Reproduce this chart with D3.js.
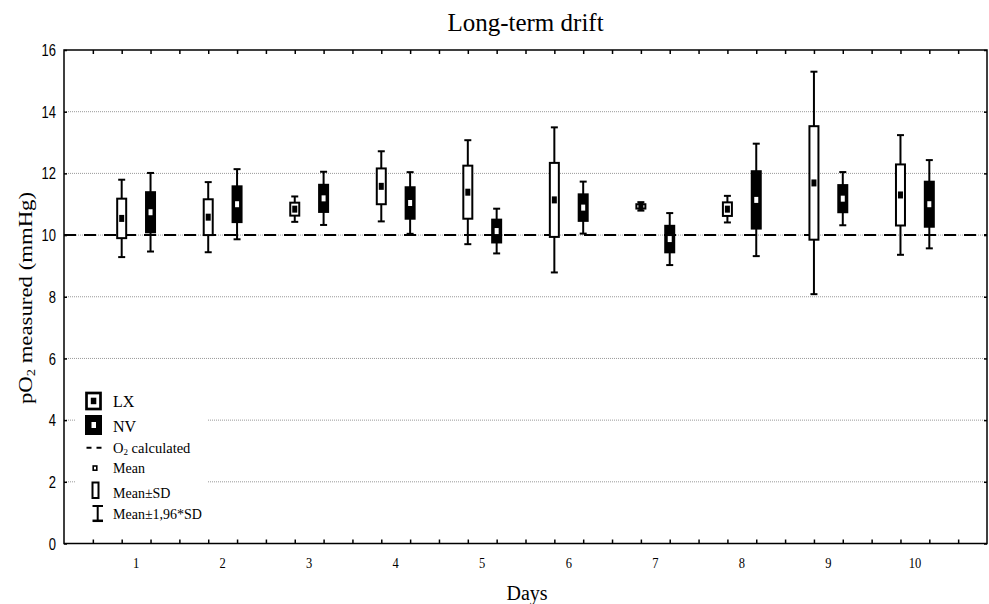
<!DOCTYPE html>
<html><head><meta charset="utf-8">
<script src="https://cdn.jsdelivr.net/npm/d3@7"></script>
<style>body{margin:0;background:#fff}</style>
</head><body>
<svg id="c" width="989" height="604"></svg>
<script>
// ---- data ----
const days = [1,2,3,4,5,6,7,8,9,10];
const lxMean = [10.54,10.58,10.84,11.58,11.39,11.14,10.93,10.84,11.69,11.30];
const lxSD   = [0.64,0.58,0.21,0.58,0.86,1.20,0.07,0.22,1.84,0.99];
const nvMean = [10.74,11.00,11.19,11.04,10.13,10.89,9.87,11.14,11.18,11.00];
const nvSD   = [0.65,0.58,0.44,0.51,0.37,0.43,0.43,0.93,0.44,0.73];
const yTicks = [0,2,4,6,8,10,12,14,16];
const o2Calculated = 10;
const ciFactor = 1.96;
const seriesNames = ["LX","NV"];
const titleText = "Long-term drift";
const xTitle = "Days";
const legendLabels = ["O2 calculated","Mean","Mean\u00B1SD","Mean\u00B11,96*SD"];

// ---- layout ----
const L=64, R=987, T=50, B=543.5;
const svg = d3.select("#c");
const serif = "'Liberation Serif','Times New Roman',serif";
const sans = "'Liberation Sans',Arial,sans-serif";

const x = d3.scaleLinear().domain([0,32]).range([L,R]);
const y = d3.scaleLinear().domain([0,16]).range([B,T]);
const slot = (d,s) => 3*d - 1 + s;

// gridlines
svg.append("g").selectAll("line").data(yTicks.filter(v=>v>0&&v<16)).join("line")
  .attr("x1",L).attr("x2",R).attr("y1",d=>y(d)).attr("y2",d=>y(d))
  .attr("stroke","#999").attr("stroke-width",1).attr("stroke-dasharray","1,1");

// legend background
svg.append("rect").attr("x",75).attr("y",383).attr("width",132).attr("height",146).attr("fill","#fff");

// reference line
svg.append("line").attr("x1",L).attr("x2",R).attr("y1",y(o2Calculated)).attr("y2",y(o2Calculated))
  .attr("stroke","#000").attr("stroke-width",2).attr("stroke-dasharray","12,8");

// axes (ticks only)
function tickAxis(axis, tr){
  const g = svg.append("g").attr("transform",tr).call(axis);
  g.select(".domain").remove();
  g.selectAll(".tick line").attr("stroke","#000").attr("stroke-width",1.5);
  g.selectAll("text").remove();
}
tickAxis(d3.axisBottom(x).tickValues(d3.range(1,32)).tickSizeInner(-4).tickSizeOuter(0), `translate(0,${B})`);
tickAxis(d3.axisTop(x).tickValues(d3.range(1,32)).tickSizeInner(-4).tickSizeOuter(0), `translate(0,${T})`);
tickAxis(d3.axisLeft(y).tickValues(yTicks).tickSizeInner(-3).tickSizeOuter(0), `translate(${L},0)`);
tickAxis(d3.axisRight(y).tickValues(yTicks).tickSizeInner(-3).tickSizeOuter(0), `translate(${R},0)`);

// frame
svg.append("rect").attr("x",L).attr("y",T).attr("width",R-L).attr("height",B-T)
  .attr("fill","none").attr("stroke","#000").attr("stroke-width",1.5);

// boxes
const series = [
  {name:seriesNames[0], mean:lxMean, sd:lxSD, fill:"#fff", dot:"#000", s:0, mw:5, mh:7},
  {name:seriesNames[1], mean:nvMean, sd:nvSD, fill:"#000", dot:"#fff", s:1, mw:4, mh:6}
];
const bw = 9, cap = 7;
series.forEach(se=>{
  const rows = days.map((d,i)=>({d, m:se.mean[i], sd:se.sd[i], cx:x(slot(d,se.s))}));
  const g = svg.append("g");
  g.selectAll(".wh").data(rows).join("line")
    .attr("x1",r=>r.cx).attr("x2",r=>r.cx)
    .attr("y1",r=>y(r.m+ciFactor*r.sd)).attr("y2",r=>y(r.m-ciFactor*r.sd))
    .attr("stroke","#000").attr("stroke-width",2);
  [1,-1].forEach(sg=>{
    g.selectAll(null).data(rows).join("line")
      .attr("x1",r=>r.cx-cap/2).attr("x2",r=>r.cx+cap/2)
      .attr("y1",r=>y(r.m+sg*ciFactor*r.sd)).attr("y2",r=>y(r.m+sg*ciFactor*r.sd))
      .attr("stroke","#000").attr("stroke-width",2);
  });
  g.selectAll(".bx").data(rows).join("rect")
    .attr("x",r=>r.cx-bw/2).attr("width",bw)
    .attr("y",r=>y(r.m+r.sd)).attr("height",r=>y(r.m-r.sd)-y(r.m+r.sd))
    .attr("fill",se.fill).attr("stroke","#000").attr("stroke-width",2);
  g.selectAll(".mn").data(rows).join("rect")
    .attr("x",r=>r.cx-se.mw/2).attr("width",se.mw)
    .attr("y",r=>y(r.m)-se.mh/2).attr("height",se.mh)
    .attr("fill",se.dot);
});

// y tick labels
yTicks.forEach(v=>{
  svg.append("g").attr("transform",`translate(56,${y(v)}) scale(1,1.3)`)
    .append("text").attr("text-anchor","end").attr("dy","0.36em").attr("fill","#000")
    .attr("font-family",sans).attr("font-size",13).text(v);
});
// x labels
days.forEach(d=>{
  svg.append("g").attr("transform",`translate(${x(3*d-0.5)},568) scale(1,1.25)`)
    .append("text").attr("text-anchor","middle").attr("fill","#000")
    .attr("font-family",serif).attr("font-size",12.5).text(d);
});

// titles
svg.append("text").attr("x",(L+R)/2).attr("y",31).attr("text-anchor","middle")
  .attr("font-family",serif).attr("font-size",25).text(titleText);
svg.append("text").attr("x",527).attr("y",600).attr("text-anchor","middle")
  .attr("font-family",serif).attr("font-size",20).text(xTitle);
const yl = svg.append("g").attr("transform","translate(32,298) scale(1,1.2) rotate(-90)")
  .append("text").attr("text-anchor","middle").attr("font-family",serif).attr("font-size",19);
yl.append("tspan").text("pO");
yl.append("tspan").attr("font-size",12).attr("dy",3).text("2");
yl.append("tspan").attr("dy",-3).text(" measured (mmHg)");

// legend
const lg = svg.append("g");
const tx = 113;
// LX
lg.append("rect").attr("x",86.5).attr("y",393).attr("width",14).attr("height",16)
  .attr("fill","#fff").attr("stroke","#000").attr("stroke-width",2.7);
lg.append("rect").attr("x",90.8).attr("y",397.7).attr("width",5.5).attr("height",6.5).attr("fill","#000");
lg.append("text").attr("x",tx).attr("y",407).attr("font-family",serif).attr("font-size",16).text(seriesNames[0]);
// NV
lg.append("rect").attr("x",85).attr("y",415).attr("width",17).attr("height",20).attr("fill","#000");
lg.append("rect").attr("x",91.5).attr("y",422).attr("width",4.5).attr("height",6).attr("fill","#fff");
lg.append("text").attr("x",tx).attr("y",432).attr("font-family",serif).attr("font-size",16).text(seriesNames[1]);
// O2 calculated
lg.append("line").attr("x1",86.5).attr("x2",103).attr("y1",447.7).attr("y2",447.7)
  .attr("stroke","#000").attr("stroke-width",2).attr("stroke-dasharray","5,5");
const o2t = lg.append("text").attr("x",tx).attr("y",453).attr("font-family",serif).attr("font-size",14.5);
o2t.append("tspan").text("O");
o2t.append("tspan").attr("font-size",9).attr("dy",2).text("2");
o2t.append("tspan").attr("dy",-2).text(" calculated");
// Mean
lg.append("rect").attr("x",93.2).attr("y",466).attr("width",3.6).attr("height",4.2)
  .attr("fill","#fff").attr("stroke","#000").attr("stroke-width",1.6);
lg.append("text").attr("x",tx).attr("y",473).attr("font-family",serif).attr("font-size",14).text(legendLabels[1]);
// Mean±SD
lg.append("rect").attr("x",92.5).attr("y",482.5).attr("width",6).attr("height",15.5)
  .attr("fill","#fff").attr("stroke","#000").attr("stroke-width",2);
lg.append("text").attr("x",tx).attr("y",498).attr("font-family",serif).attr("font-size",14).text(legendLabels[2]);
// Mean±1.96SD
lg.append("line").attr("x1",97.7).attr("x2",97.7).attr("y1",505).attr("y2",521.5).attr("stroke","#000").attr("stroke-width",2);
lg.append("line").attr("x1",92.5).attr("x2",103).attr("y1",506).attr("y2",506).attr("stroke","#000").attr("stroke-width",2);
lg.append("line").attr("x1",92.5).attr("x2",103).attr("y1",520.8).attr("y2",520.8).attr("stroke","#000").attr("stroke-width",2.5);
lg.append("text").attr("x",tx).attr("y",519).attr("font-family",serif).attr("font-size",14).text(legendLabels[3]);
</script>
</body></html>
